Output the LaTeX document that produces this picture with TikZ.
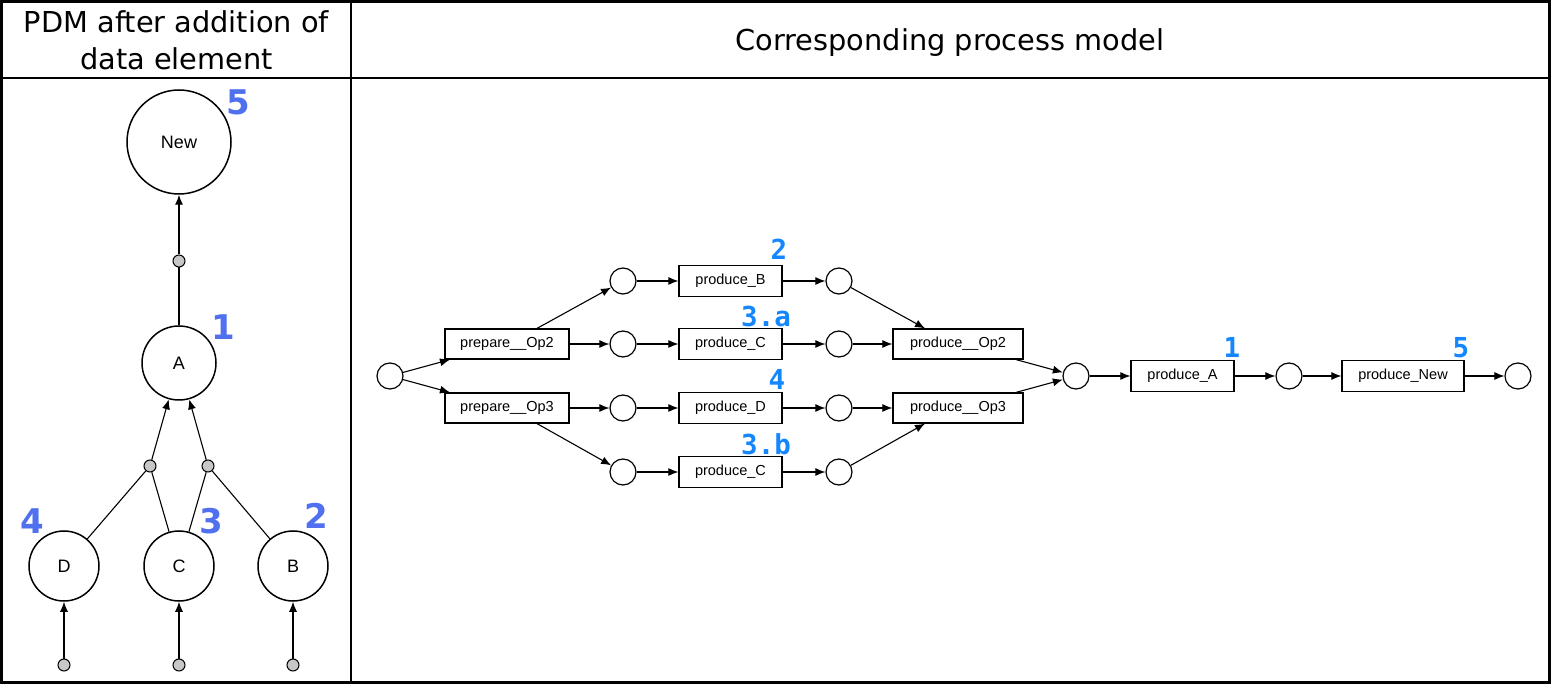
\documentclass[tikz,border=0pt]{standalone}
\usepackage{fontspec}
\setmainfont{DejaVu Sans}
\newfontfamily\boxfont{Liberation Sans}
\newfontfamily\monolab{DejaVu Sans Mono}
\usetikzlibrary{arrows.meta}
\definecolor{lblue}{RGB}{80,112,240}
\definecolor{rblue}{RGB}{20,135,255}
\begin{document}
\begin{tikzpicture}[x=1pt,y=-1pt,
  tbl/.style={line width=2.5pt},
  hdr/.style={anchor=base,inner sep=0pt,font=\fontsize{28.8}{37}\selectfont},
  pdm/.style={circle,draw,line width=1.5pt,inner sep=0pt,font=\boxfont\fontsize{18}{20}\selectfont},
  dot/.style={circle,draw,fill=black!22,line width=1pt,minimum size=12pt,inner sep=0pt},
  place/.style={circle,draw,line width=1.2pt,minimum size=26pt,inner sep=0pt},
  trans/.style={draw,line width=1.2pt,minimum height=31pt,inner sep=0pt,font=\boxfont\fontsize{14.5}{16}\selectfont},
  arr/.style={-{Latex[length=10pt,width=8pt]},line width=1.1pt},
  ln/.style={line width=1.1pt},
  llab/.style={anchor=base,inner sep=0pt,text=lblue,font=\bfseries\fontsize{34}{36}\selectfont},
  rlab/.style={anchor=base,inner sep=0pt,text=rblue,font=\monolab\bfseries\fontsize{27.5}{29}\selectfont}
]
\useasboundingbox (0,0) rectangle (1551,684);
\fill[white] (0,0) rectangle (1551,684);
% table
\draw[tbl] (1.5,1.5) rectangle (1549.5,682.5);
\draw[tbl] (351,1.5) -- (351,682.5);
\draw[tbl] (1.5,78) -- (1549.5,78);
\node[hdr] (h1) at (176.5,33) {PDM after addition of};
\node[hdr] (h2) at (176.5,70) {data element};
\node[hdr] (h3) at (950,51) {Corresponding process model};

% ---- left: PDM ----
\node[pdm,minimum size=104pt] (New) at (179,142) {New};
\node[dot] (g0) at (179,261) {};
\node[pdm,minimum size=74pt] (A) at (179,363) {A};
\node[dot] (gL) at (150,466) {};
\node[dot] (gR) at (208,466) {};
\node[pdm,minimum size=70pt] (D) at (64,566) {D};
\node[pdm,minimum size=70pt] (C) at (179,566) {C};
\node[pdm,minimum size=70pt] (B) at (293,566) {B};
\node[dot] (bD) at (64,665) {};
\node[dot] (bC) at (179,665) {};
\node[dot] (bB) at (293,665) {};
\draw[arr] (g0) -- (New);
\draw[ln] (A) -- (g0);
\draw[arr] (gL) -- (A);
\draw[arr] (gR) -- (A);
\draw[ln] (D) -- (gL);
\draw[ln] (C) -- (gL);
\draw[ln] (C) -- (gR);
\draw[ln] (B) -- (gR);
\draw[arr] (bD) -- (D);
\draw[arr] (bC) -- (C);
\draw[arr] (bB) -- (B);
\node[llab] (l5) at (238,115) {5};
\node[llab] (l1) at (223,340) {1};
\node[llab] (l4) at (32,533) {4};
\node[llab] (l3) at (211,533) {3};
\node[llab] (l2) at (316,528) {2};

% ---- right: process model ----
\node[place] (p0) at (390,376) {};
\node[trans,minimum width=124pt,minimum height=30pt] (prep2) at (507,344) {prepare\_\_Op2};
\node[trans,minimum width=124pt,minimum height=30pt] (prep3) at (507,408) {prepare\_\_Op3};
\node[place] (p1) at (623,281) {};
\node[place] (p2) at (623,344) {};
\node[place] (p3) at (623,408) {};
\node[place] (p4) at (623,472) {};
\node[trans,minimum width=103pt] (prB) at (730.5,281) {produce\_B};
\node[trans,minimum width=103pt] (prC1) at (730.5,344) {produce\_C};
\node[trans,minimum width=103pt] (prD) at (730.5,408) {produce\_D};
\node[trans,minimum width=103pt] (prC2) at (730.5,472) {produce\_C};
\node[place] (q1) at (839,281) {};
\node[place] (q2) at (839,344) {};
\node[place] (q3) at (839,408) {};
\node[place] (q4) at (839,472) {};
\node[trans,minimum width=130pt,minimum height=30pt] (op2) at (958,344) {produce\_\_Op2};
\node[trans,minimum width=130pt,minimum height=30pt] (op3) at (958,408) {produce\_\_Op3};
\node[place] (pm) at (1076,376) {};
\node[trans,minimum width=103pt] (prA) at (1182.5,376) {produce\_A};
\node[place] (pa) at (1289,376) {};
\node[trans,minimum width=122pt] (prNew) at (1403,376) {produce\_New};
\node[place] (pe) at (1518,376) {};

\draw[arr] (p0) -- (prep2);
\draw[arr] (p0) -- (prep3);
\draw[arr] ([xshift=30pt]prep2.north) -- (p1);
\draw[arr] (prep2) -- (p2);
\draw[arr] (prep3) -- (p3);
\draw[arr] ([xshift=30pt]prep3.south) -- (p4);
\draw[arr] (p1) -- (prB);
\draw[arr] (p2) -- (prC1);
\draw[arr] (p3) -- (prD);
\draw[arr] (p4) -- (prC2);
\draw[arr] (prB) -- (q1);
\draw[arr] (prC1) -- (q2);
\draw[arr] (prD) -- (q3);
\draw[arr] (prC2) -- (q4);
\draw[arr] (q1) -- ([xshift=-33pt]op2.north);
\draw[arr] (q2) -- (op2);
\draw[arr] (q3) -- (op3);
\draw[arr] (q4) -- ([xshift=-33pt]op3.south);
\draw[arr] ([xshift=58pt]op2.south) -- (pm);
\draw[arr] ([xshift=58pt]op3.north) -- (pm);
\draw[arr] (pm) -- (prA);
\draw[arr] (prA) -- (pa);
\draw[arr] (pa) -- (prNew);
\draw[arr] (prNew) -- (pe);

\node[rlab] (r2) at (779,260) {2};
\node[rlab,anchor=base west] (r3a) at (741,327) {3.a};
\node[rlab] (r4) at (777,390) {4};
\node[rlab,anchor=base west] (r3b) at (741,455) {3.b};
\node[rlab] (r1) at (1232,358) {1};
\node[rlab] (r5) at (1461,358) {5};
\end{tikzpicture}
\end{document}
